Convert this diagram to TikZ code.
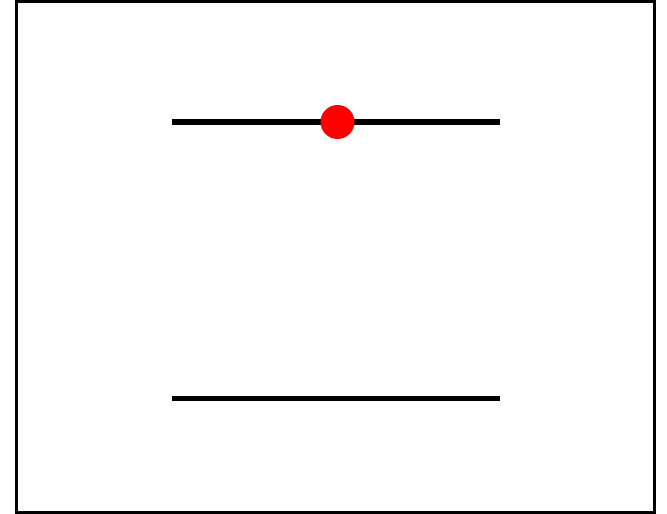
\documentclass[tikz,border=0pt]{standalone}
\usepackage{tikz}

\begin{document}
\begin{tikzpicture}[x=1pt, y=-1pt]
    % Khung hình
    \useasboundingbox (0, 0) rectangle (667, 514);
    \draw[line width=3pt] (16.5, 1.5) rectangle (654.5, 512.5);

    % Hai thanh song song
    \coordinate (A1) at (172, 122);
    \coordinate (B1) at (500, 122);
    \coordinate (A2) at (172, 398.5);
    \coordinate (B2) at (500, 398.5);
    \draw[line width=5.5pt] (A1) -- (B1);
    \draw[line width=5.5pt] (A2) -- (B2);

    % Điểm đỏ trên thanh trên
    \node[circle, fill=red, inner sep=0pt, minimum size=34pt] (P) at (337.5, 122) {};
\end{tikzpicture}
\end{document}
